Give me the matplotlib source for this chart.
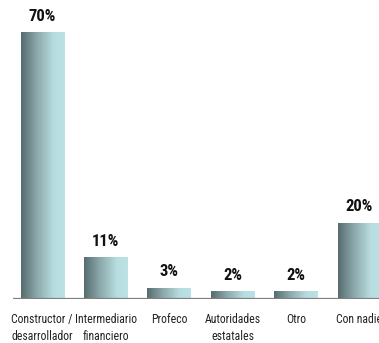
import numpy as np
import matplotlib
matplotlib.use("Agg")
import matplotlib.pyplot as plt
from matplotlib.colors import LinearSegmentedColormap

categories = ["Constructor /\ndesarrollador", "Intermediario\nfinanciero", "Profeco",
              "Autoridades\nestatales", "Otro", "Con nadie"]
values = [70, 11, 3, 2, 2, 20]
value_labels = ["70%", "11%", "3%", "2%", "2%", "20%"]

FONT = ["Roboto Condensed", "DejaVu Sans"]

fig = plt.figure(figsize=(3.79, 3.43), dpi=100)
ax = fig.add_axes([13 / 379, 44 / 343, 1 - 13 / 379, 299 / 343])

x = np.arange(len(values))
width = 0.68
bars = ax.bar(x, values, width=width, color="none", edgecolor="none")

# left-to-right shading on each bar
cmap = LinearSegmentedColormap.from_list(
    "shade", [(0.0, "#566c6f"), (0.35, "#8aa6a8"), (0.75, "#b8dde0"), (1.0, "#bde2e5")])
grad = np.linspace(0, 1, 256).reshape(1, -1)
for b in bars:
    im = ax.imshow(grad, cmap=cmap, aspect="auto",
                   extent=[b.get_x(), b.get_x() + b.get_width(), 0, b.get_height()],
                   zorder=2)
    im.set_clip_path(b)

for xi, v, lab in zip(x, values, value_labels):
    ax.annotate(lab, (xi, v), xytext=(0, 6), textcoords="offset points",
                ha="center", va="bottom", fontsize=12, fontweight="bold",
                family=FONT, color="#111111")

ax.axhline(0, color="#7f7f7f", linewidth=1.6, zorder=3)
ax.set_xlim(-0.46, 5.31)
ax.set_ylim(0, 78.4)

ax.set_xticks(x)
ax.set_xticklabels(categories, fontsize=8.5, family=FONT, color="#222222",
                   linespacing=1.45)
ax.tick_params(axis="x", length=0, pad=10)
ax.set_yticks([])
for s in ax.spines.values():
    s.set_visible(False)

fig.savefig("out.png", dpi=100)
